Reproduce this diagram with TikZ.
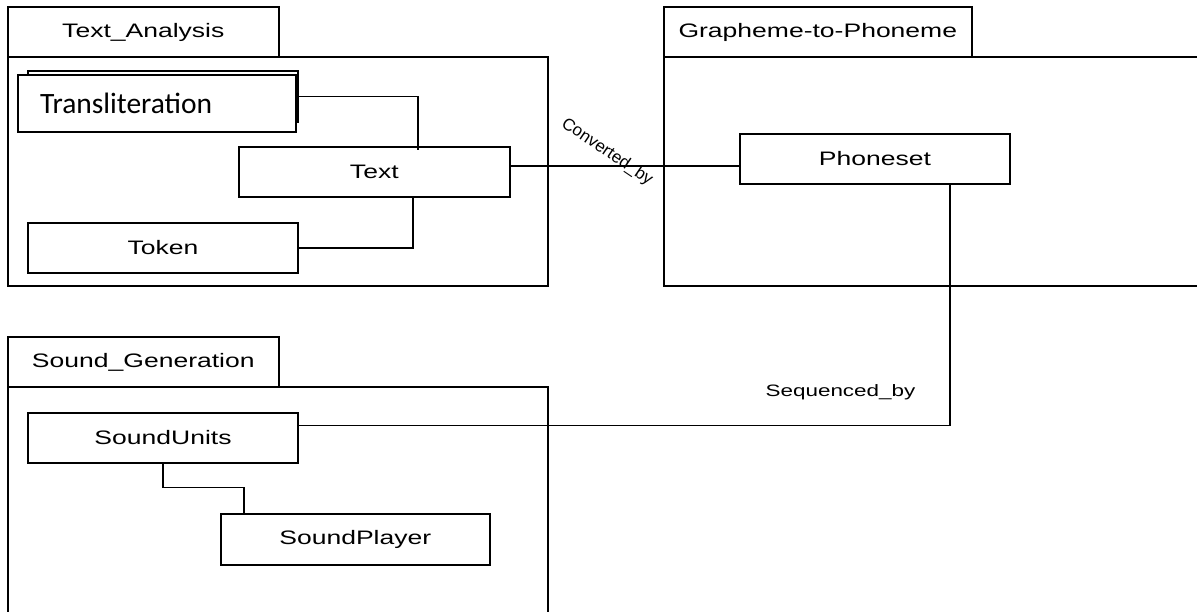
\documentclass[tikz,border=0pt]{standalone}
\usepackage{fontspec}
\setmainfont{Liberation Sans}[FakeStretch=1.36]
\newfontfamily\plainsans{Liberation Sans}
\newfontfamily\calfont{Carlito}
\usetikzlibrary{calc,positioning}
\begin{document}
\begin{tikzpicture}[x=1pt,y=-1pt,every node/.style={draw=black,line width=2pt,inner sep=0pt,outer sep=0pt},every
node/.append style={font=\fontsize{19.5}{22}\selectfont},
  pkgtab/.style={rectangle,minimum width=270.6pt,minimum height=50pt},
  pkgbody/.style={rectangle,anchor=north west,minimum width=540pt},
  cls/.style={rectangle,fill=white,minimum width=270pt,minimum height=50.5pt},
  conn/.style={line width=1.2pt}]
     \useasboundingbox (0,0) rectangle (1197,612);
     \node at (143.3,32)[pkgtab](tatab){Text\_Analysis};
     \node at (tatab.south west)[pkgbody,minimum height=229pt](tabody){};
     \node at (817.8,32)[pkgtab,minimum width=308.4pt](gptab){Grapheme-to-Phoneme};
     \node at (gptab.south west)[pkgbody,minimum width=545pt,minimum height=229pt](gpbody){};
     \node at (143.3,362)[pkgtab](sgtab){Sound\_Generation};
     \node at (sgtab.south west)[pkgbody,minimum height=240pt](sgbody){};
     \node at (162.7,96.5)[cls,minimum height=51pt](trback){};
     \node at (156.9,103.3)[cls,minimum width=277.7pt,minimum height=56.7pt,text width=233.7pt,align=left,font=\calfont\fontsize{29.5}{33}\selectfont](translit){Transliteration};
     \node at (374.3,172)[cls,minimum width=270.6pt](text){Text};
     \node at ($(text)+(-211.3,76)$)[cls](token){Token};
     \node at (875,159)[cls,minimum height=50pt](phon){Phoneset};
     \node at (163,438)[cls,minimum height=50.3pt](units){SoundUnits};
     \node at ($(units)+(192.3,101.5)$)[cls,minimum width=269.3pt,minimum height=51pt](player){SoundPlayer};
     \node at (607,152)[draw=none,rotate=-34,font=\plainsans\fontsize{17}{19}\selectfont](conv){Converted\_by};
     \node at (840.5,396.7)[draw=none,anchor=base,font=\fontsize{16.5}{19}\selectfont](seq){Sequenced\_by};
     \draw[conn](trback.east) -| ([xshift=43.6pt,yshift=-3pt]text.north);
     \draw[conn](token.east) -| ([xshift=38.7pt]text.south);
     \draw[conn]([yshift=6pt]text.east) -- ([yshift=6pt]text.east -| phon.west);
     \draw[conn]([xshift=75pt]phon.south) |- ([yshift=12.3pt]units.east);
     \draw[conn](units.south) -- ++(0,24) -| ([xshift=-111.3pt]player.north);
\end{tikzpicture}
\end{document}
